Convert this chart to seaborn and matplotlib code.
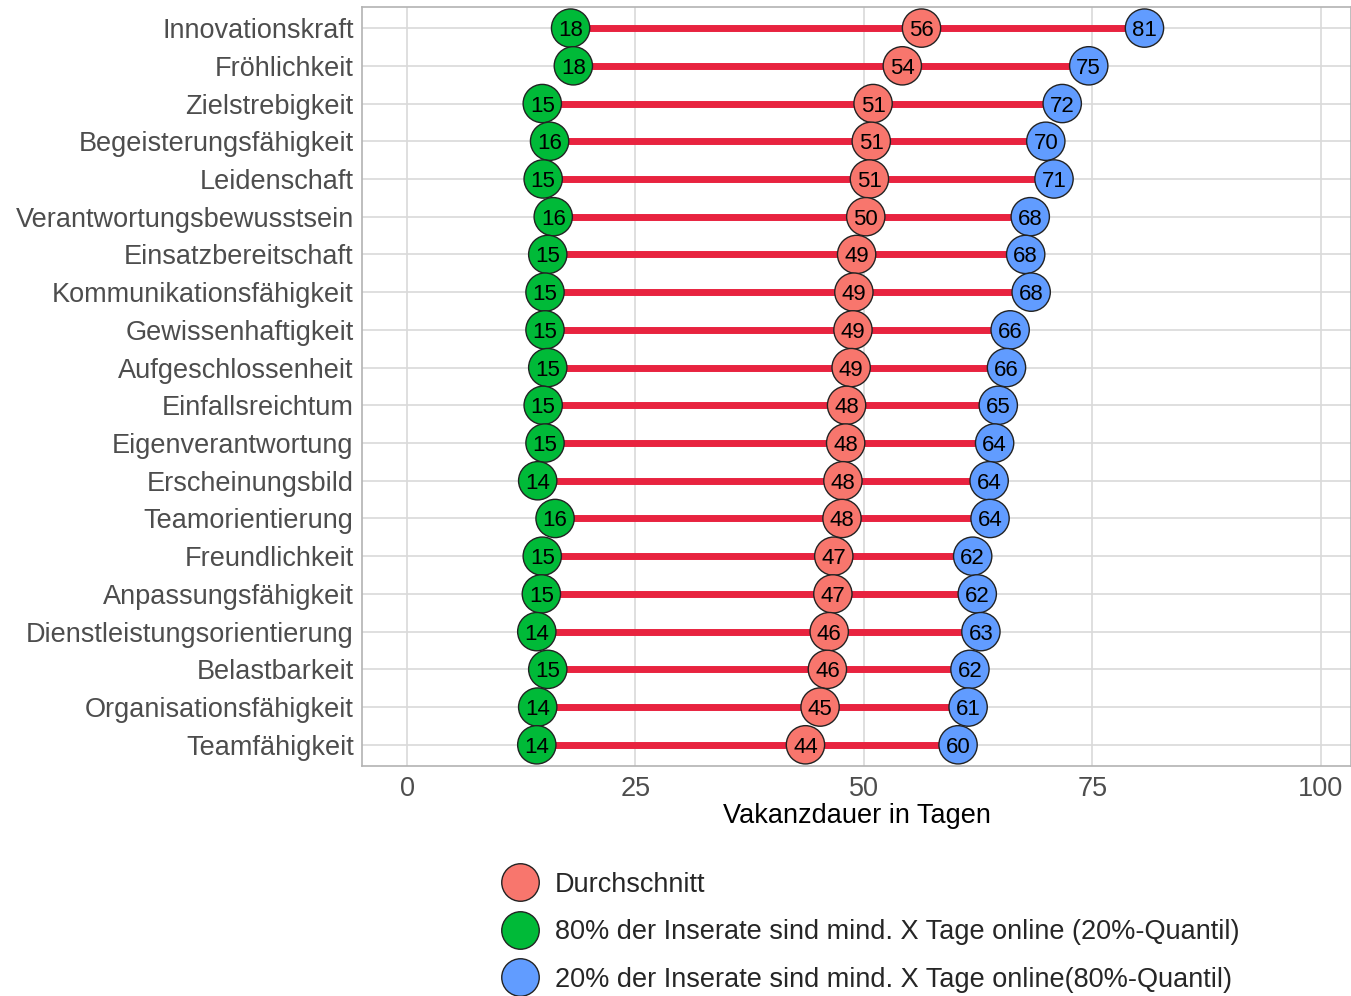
import numpy as np
import pandas as pd
import matplotlib
matplotlib.use("Agg")
import matplotlib.pyplot as plt
import seaborn as sns


kategorien = ["Innovationskraft", "Fröhlichkeit", "Zielstrebigkeit", "Begeisterungsfähigkeit",
              "Leidenschaft", "Verantwortungsbewusstsein", "Einsatzbereitschaft",
              "Kommunikationsfähigkeit", "Gewissenhaftigkeit", "Aufgeschlossenheit",
              "Einfallsreichtum", "Eigenverantwortung", "Erscheinungsbild", "Teamorientierung",
              "Freundlichkeit", "Anpassungsfähigkeit", "Dienstleistungsorientierung",
              "Belastbarkeit", "Organisationsfähigkeit", "Teamfähigkeit"]

durchschnitt = [56.3, 54.2, 51.0, 50.8, 50.6, 50.2, 49.2, 48.9, 48.8, 48.6,
                48.1, 48.0, 47.7, 47.6, 46.7, 46.6, 46.2, 46.0, 45.2, 43.6]
quantil_20 = [17.9, 18.2, 14.8, 15.6, 14.9, 16.0, 15.4, 15.1, 15.1, 15.4,
              14.9, 15.1, 14.3, 16.2, 14.8, 14.7, 14.2, 15.4, 14.3, 14.2]
quantil_80 = [80.7, 74.6, 71.7, 69.9, 70.8, 68.2, 67.7, 68.3, 66.0, 65.6,
              64.7, 64.3, 63.7, 63.8, 61.9, 62.4, 62.8, 61.6, 61.4, 60.3]

serien = ["Durchschnitt",
          "80% der Inserate sind mind. X Tage online (20%-Quantil)",
          "20% der Inserate sind mind. X Tage online(80%-Quantil)"]
farben = ["#F8766D", "#00BA38", "#619CFF"]

df = pd.DataFrame({"kategorie": kategorien, serien[0]: durchschnitt,
                   serien[1]: quantil_20, serien[2]: quantil_80})
lang = df.melt(id_vars="kategorie", var_name="serie", value_name="tage")

sns.set_theme(style="whitegrid")
plt.rcParams["font.family"] = ["Liberation Sans", "DejaVu Sans"]

fig = plt.figure(figsize=(13.51, 9.96), dpi=100)
ax = fig.add_axes([0.268, 0.231, 0.732, 0.762])

ypos = np.arange(len(kategorien))
ax.hlines(ypos, df[serien[1]], df[serien[2]], color="#E8233F", lw=5, zorder=2)

sns.scatterplot(data=lang, x="tage", y="kategorie", hue="serie", hue_order=serien,
                palette=farben, s=760, edgecolor="#222222", linewidth=1,
                ax=ax, zorder=3)

for _, r in lang.iterrows():
    ax.text(r["tage"], kategorien.index(r["kategorie"]), f"{r['tage']:.0f}",
            ha="center", va="center_baseline", fontsize=16, color="black", zorder=4)

ax.set_xlim(-4.92, 103.3)
ax.set_ylim(len(kategorien) - 0.44, -0.56)
ax.set_xticks([0, 25, 50, 75, 100])
ax.tick_params(axis="x", labelsize=19.5, labelcolor="#4d4d4d", pad=1)
ax.tick_params(axis="y", labelsize=19.5, labelcolor="#4d4d4d", pad=0)
ax.set_xlabel("Vakanzdauer in Tagen", fontsize=19.5, color="black", labelpad=1)
ax.set_ylabel("")
ax.grid(True, color="#d9d9d9", lw=1.2)
for sp in ax.spines.values():
    sp.set_color("#b3b3b3")
    sp.set_linewidth(1.2)

handles, labels = ax.get_legend_handles_labels()
for h in handles:
    h.set_markersize(27)
    h.set_markeredgecolor("#222222")
ax.legend(handles, labels, loc="upper left", bbox_to_anchor=(0.121, -0.125),
          frameon=False, fontsize=19.5, handletextpad=0.3, labelspacing=0.8,
          borderaxespad=0)

fig.savefig("out.png", dpi=100)
